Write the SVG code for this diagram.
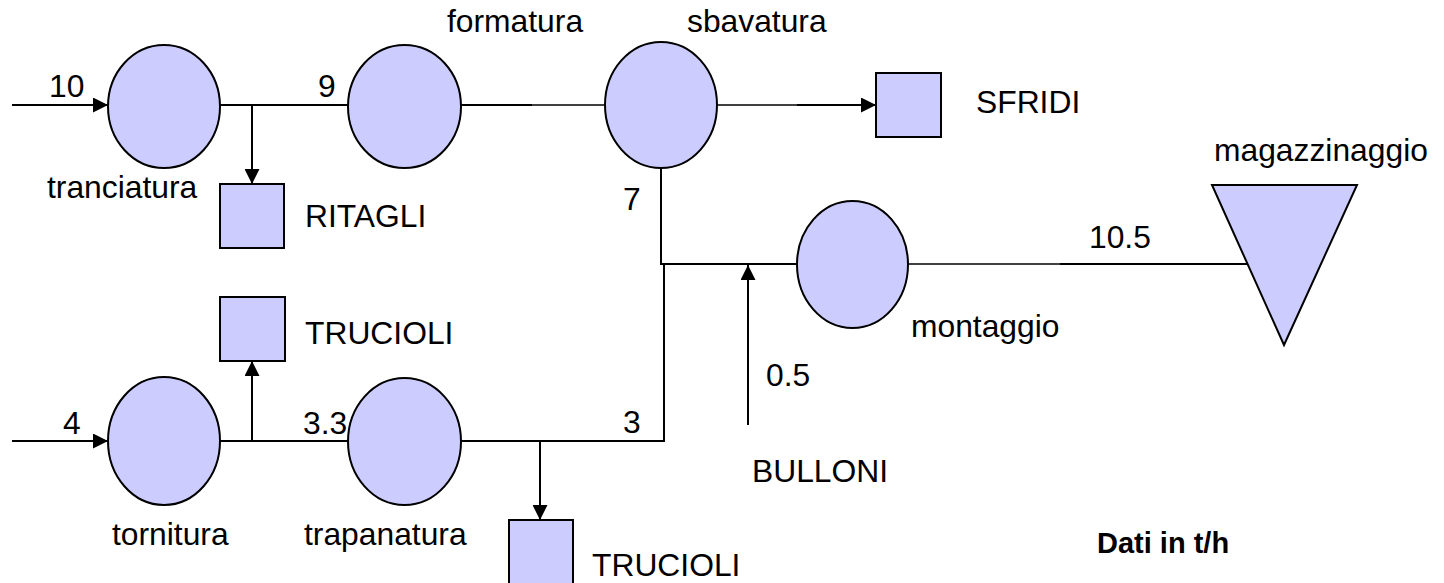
<svg xmlns="http://www.w3.org/2000/svg" width="1444" height="583" viewBox="0 0 1444 583">
  <style>
    .proc { fill: #CCCCFF; stroke: #000; stroke-width: 2; }
    .line { fill: none; stroke: #000; stroke-width: 2; }
    .thin { fill: none; stroke: #000; stroke-width: 1.4; }
    .lbl { font-family: "Liberation Sans", Arial, sans-serif; font-size: 31.8px; fill: #000; }
    .bold { font-family: "Liberation Sans", Arial, sans-serif; font-size: 29px; font-weight: bold; fill: #000; }
  </style>
  <defs>
    <marker id="arrow" markerUnits="userSpaceOnUse" markerWidth="16" markerHeight="15" refX="15" refY="7.5" orient="auto">
      <path d="M0,0 L15,7.5 L0,15 Z" fill="#000"/>
    </marker>
  </defs>

  <rect width="1444" height="583" fill="#fff"/>

  <!-- flow lines -->
  <g id="connectors">
    <!-- top line: input, tranciatura, formatura, sbavatura -->
    <line class="line" x1="12" y1="105" x2="108" y2="105" marker-end="url(#arrow)"/>
    <line class="line" x1="220" y1="105" x2="348" y2="105"/>
    <line class="line" x1="252" y1="105" x2="252" y2="184" marker-end="url(#arrow)"/>
    <line class="line" x1="461" y1="105" x2="532" y2="105"/>
    <line class="thin" x1="532" y1="105" x2="605" y2="105"/>
    <line class="thin" x1="717" y1="105" x2="797" y2="105"/>
    <line class="line" x1="797" y1="105" x2="876" y2="105" marker-end="url(#arrow)"/>

    <!-- sbavatura down to the assembly junction -->
    <polyline class="line" points="661,168 661,264 797,264"/>
    <!-- bolts feed -->
    <line class="line" x1="748" y1="425" x2="748" y2="265" marker-end="url(#arrow)"/>
    <!-- montaggio to storage -->
    <line class="thin" x1="908" y1="264" x2="1060" y2="264"/>
    <line class="line" x1="1060" y1="264" x2="1248" y2="264"/>

    <!-- bottom line: input, tornitura, trapanatura -->
    <line class="line" x1="12" y1="441" x2="108" y2="441" marker-end="url(#arrow)"/>
    <line class="line" x1="220" y1="441" x2="348" y2="441"/>
    <line class="line" x1="252" y1="441" x2="252" y2="361" marker-end="url(#arrow)"/>
    <polyline class="line" points="461,441 664,441 664,264"/>
    <line class="line" x1="540" y1="441" x2="540" y2="520" marker-end="url(#arrow)"/>

    <!-- flow values -->
    <text class="lbl" x="49" y="97">10</text>
    <text class="lbl" x="318" y="97">9</text>
    <text class="lbl" x="623" y="210">7</text>
    <text class="lbl" x="1089" y="248">10.5</text>
    <text class="lbl" x="766" y="386">0.5</text>
    <text class="lbl" x="63" y="434">4</text>
    <text class="lbl" x="303" y="434">3.3</text>
    <text class="lbl" x="623" y="433">3</text>
  </g>

  <!-- process steps -->
  <g id="tranciatura">
    <ellipse class="proc" cx="164" cy="106.5" rx="56" ry="61.5"/>
    <text class="lbl" x="47" y="198">tranciatura</text>
  </g>
  <g id="formatura">
    <ellipse class="proc" cx="404.5" cy="106.5" rx="56.5" ry="61.5"/>
    <text class="lbl" x="447" y="32">formatura</text>
  </g>
  <g id="sbavatura">
    <ellipse class="proc" cx="661" cy="105" rx="56" ry="63"/>
    <text class="lbl" x="687" y="32">sbavatura</text>
  </g>
  <g id="montaggio">
    <ellipse class="proc" cx="852.5" cy="264.5" rx="55.5" ry="63.5"/>
    <text class="lbl" x="911" y="337">montaggio</text>
  </g>
  <g id="tornitura">
    <ellipse class="proc" cx="164" cy="441" rx="56" ry="64"/>
    <text class="lbl" x="112" y="545">tornitura</text>
  </g>
  <g id="trapanatura">
    <ellipse class="proc" cx="404.5" cy="441.5" rx="56.5" ry="63.5"/>
    <text class="lbl" x="304" y="545">trapanatura</text>
  </g>

  <!-- storage -->
  <g id="magazzinaggio">
    <polygon class="proc" points="1212,185 1357,185 1284,345"/>
    <text class="lbl" x="1214" y="161">magazzinaggio</text>
  </g>

  <!-- waste and inputs -->
  <g id="ritagli">
    <rect class="proc" x="220" y="184" width="64" height="64"/>
    <text class="lbl" x="305" y="227">RITAGLI</text>
  </g>
  <g id="sfridi">
    <rect class="proc" x="876" y="73" width="65" height="64"/>
    <text class="lbl" x="976" y="113">SFRIDI</text>
  </g>
  <g id="trucioli-tornitura">
    <rect class="proc" x="220" y="297" width="65" height="64"/>
    <text class="lbl" x="305" y="344">TRUCIOLI</text>
  </g>
  <g id="trucioli-trapanatura">
    <rect class="proc" x="509" y="520" width="64" height="64"/>
    <text class="lbl" x="592" y="576">TRUCIOLI</text>
  </g>
  <g id="bulloni">
    <text class="lbl" x="752" y="482">BULLONI</text>
  </g>

  <g id="note">
    <text class="bold" x="1097" y="553">Dati in t/h</text>
  </g>
</svg>
